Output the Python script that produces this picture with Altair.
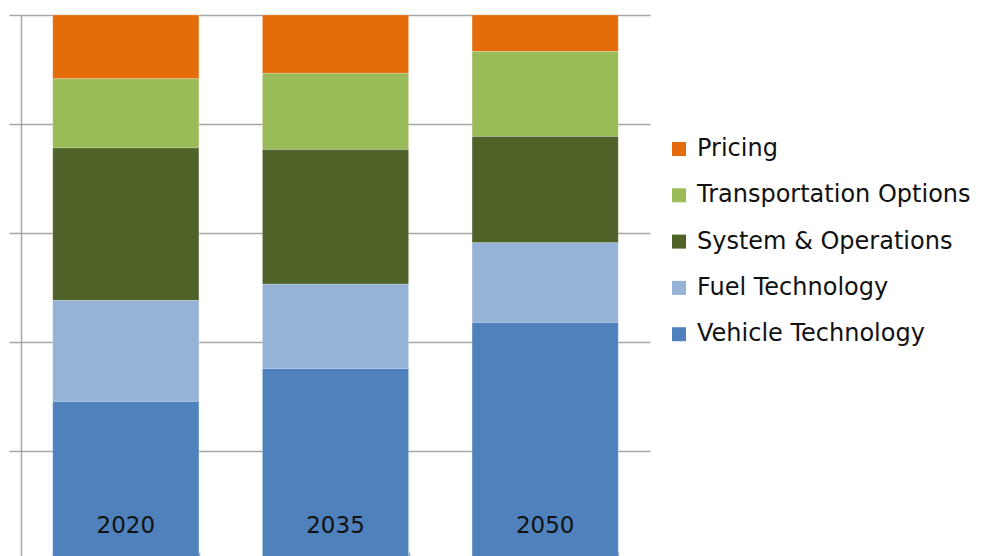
import altair as alt
import pandas as pd

years = ["2020", "2035", "2050"]
categories = ["Pricing", "Transportation Options", "System & Operations",
              "Fuel Technology", "Vehicle Technology"]
colors = ["#E46C0A", "#9BBB59", "#4F6228", "#95B3D7", "#4F81BD"]

pricing = [11.7, 10.7, 6.7]
transport = [12.7, 14.0, 15.6]
system_ops = [28.0, 24.7, 19.5]
fuel = [18.5, 15.5, 14.6]
vehicle = [29.1, 35.1, 43.6]

series = {
    "Pricing": pricing,
    "Transportation Options": transport,
    "System & Operations": system_ops,
    "Fuel Technology": fuel,
    "Vehicle Technology": vehicle,
}

rows = []
for cat in categories:
    for i, yr in enumerate(years):
        rows.append({"year": yr, "category": cat, "share": series[cat][i],
                     "stack_order": len(categories) - categories.index(cat)})
df = pd.DataFrame(rows)
labels_df = pd.DataFrame({"year": years})

FONT = "DejaVu Sans"
GRID = "#a6a6a6"
TXT = "#111111"

x_enc = alt.X("year:N", sort=years,
              scale=alt.Scale(paddingInner=0.303, paddingOuter=0.1515),
              axis=alt.Axis(title=None, labels=False, domain=False,
                            ticks=True, tickBand="extent", tickSize=16,
                            tickColor=GRID, tickWidth=1.5, offset=-8,
                            grid=False))

bars = alt.Chart(df).mark_bar(stroke="#ffffff", strokeWidth=0.4, strokeOpacity=0.5).encode(
    x=x_enc,
    y=alt.Y("share:Q", stack="zero",
            scale=alt.Scale(domain=[0, 100], nice=False),
            axis=alt.Axis(title=None, labels=False, values=[0, 20, 40, 60, 80, 100],
                          domain=True, domainColor=GRID, domainWidth=1.5,
                          ticks=True, tickSize=12, tickColor=GRID, tickWidth=1.5,
                          grid=True, gridColor=GRID, gridWidth=1.5)),
    color=alt.Color("category:N",
                    scale=alt.Scale(domain=categories, range=colors),
                    legend=alt.Legend(title=None, orient="none", legendX=646, legendY=122,
                                      symbolType="square", symbolSize=196,
                                      symbolStrokeWidth=0, labelFont=FONT,
                                      labelFontSize=24, labelColor=TXT,
                                      rowPadding=22.3, labelOffset=6, padding=0,
                                      labelLimit=400)),
    order=alt.Order("stack_order:Q", sort="ascending"),
)

texts = alt.Chart(labels_df).mark_text(
    font=FONT, fontSize=23, color=TXT, baseline="middle", dy=-34
).encode(
    x=alt.X("year:N", sort=years),
    y=alt.datum(0),
    text="year:N",
)

chart = alt.layer(bars, texts).properties(
    width=629, height=545,
    padding={"left": 0, "top": 6, "right": 0, "bottom": 0},
).configure_view(stroke=None).configure_axis(gridCap="butt")

chart.save("out.html", embed_options={"renderer": "svg", "actions": False})
